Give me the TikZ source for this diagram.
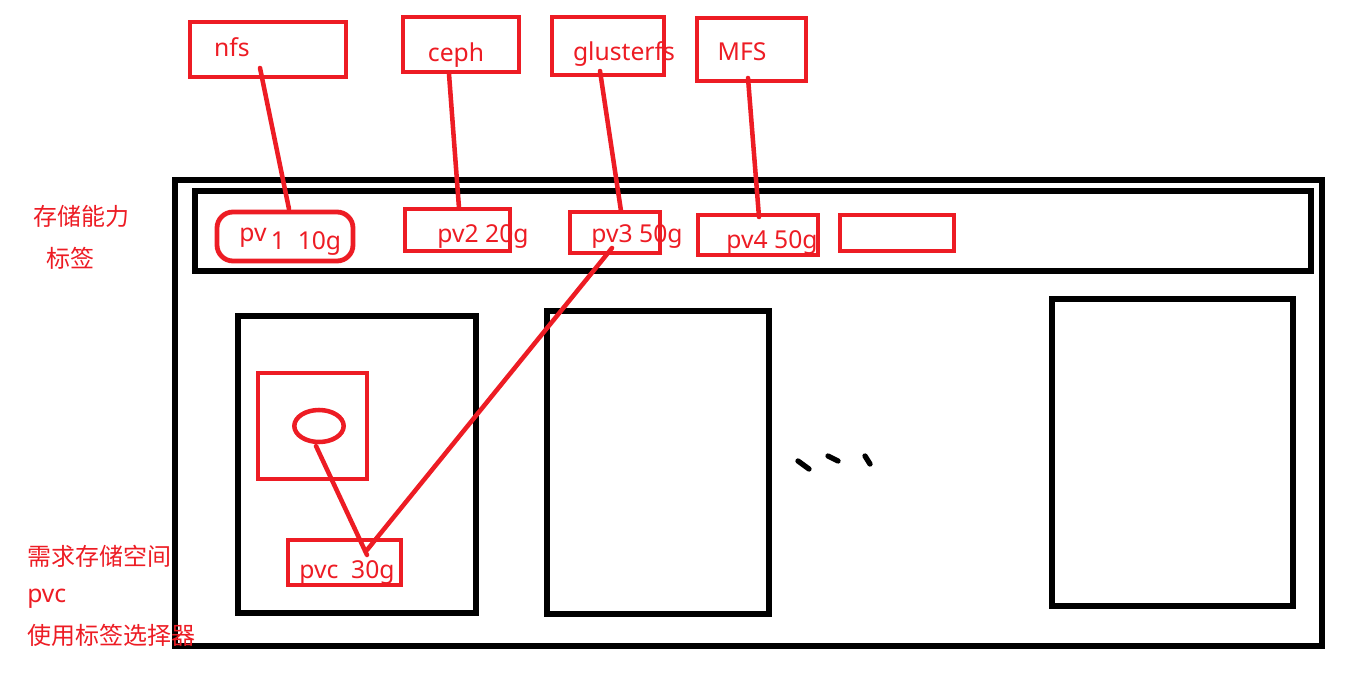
\documentclass[tikz,border=0pt]{standalone}
\usepackage{fontspec}
\usetikzlibrary{shapes.geometric}
\setmainfont{Noto Sans}
\newfontfamily\cjk{Noto Sans CJK SC}
\begin{document}
\begin{tikzpicture}[x=0.75pt,y=-0.75pt,
  blk/.style={draw=black,line width=4pt},
  rbox/.style={draw=pred,line width=3.6pt},
  rline/.style={draw=pred,line width=3.4pt,line cap=round},
  lbl/.style={text=pred,font=\fontsize{18.5}{22}\selectfont,inner sep=0pt},
  clbl/.style={text=pred,font=\cjk\fontsize{18}{22}\selectfont,inner sep=0pt,anchor=west}]
\definecolor{pred}{RGB}{237,28,36}
\useasboundingbox (0,0) rectangle (1348,673);
% black frames
\draw[blk] (175,180) rectangle (1322,646);
\draw[blk] (195,191) rectangle (1311,271);
\draw[blk] (238,316) rectangle (476,613);
\draw[blk] (547,311) rectangle (769,614);
\draw[blk] (1052,299) rectangle (1293,606);
% storage backends
\draw[rbox] (190,22) rectangle (346,77);
\draw[rbox] (403,17) rectangle (519,72);
\draw[rbox] (552,17) rectangle (664,75);
\draw[rbox] (697,18) rectangle (806,81);
\node[lbl] (tnfs) at (232,47) {nfs};
\node[lbl] (tceph) at (456,55) {ceph};
\node[lbl] (tgl) at (624,54) {glusterfs};
\node[lbl] (tmfs) at (742,52) {MFS};
% pv boxes
\draw[rbox,rounded corners=12] (217,212) rectangle (353,261);
\draw[rbox] (405,209) rectangle (510,251);
\draw[rbox] (570,212) rectangle (660,253);
\draw[rbox] (698,215) rectangle (818,255);
\draw[rbox] (840,215) rectangle (954,251);
\node[lbl] (tpv1a) at (253,238) {pv};
\node[lbl] (tpv1b) at (306,244) {1\ \ 10g};
\node[lbl] (tpv2) at (483,237) {pv2 20g};
\node[lbl] (tpv3) at (637,237) {pv3 50g};
\node[lbl] (tpv4) at (772,243) {pv4 50g};
% connectors
\coordinate (a1) at (260,68); \coordinate (b1) at (289,209);
\coordinate (a2) at (449,74); \coordinate (b2) at (459,208);
\coordinate (a3) at (600,71); \coordinate (b3) at (621,211);
\coordinate (a4) at (748,78); \coordinate (b4) at (759,217);
\draw[rline] (a1) -- (b1);
\draw[rline] (a2) -- (b2);
\draw[rline] (a3) -- (b3);
\draw[rline] (a4) -- (b4);
% pod contents
\draw[rbox] (258,373) rectangle (367,479);
\node[draw=pred,line width=3.4pt,ellipse,minimum width=37pt,minimum height=24pt,inner sep=0pt] (vol) at (319,426) {};
\draw[rbox] (288,540) rectangle (401,585);
\node[lbl] (tpvc) at (347,573) {pvc\ \ 30g};
\coordinate (c1) at (612,248); \coordinate (c2) at (367,550); \coordinate (c3) at (367,555); \coordinate (v1) at (316,446);
\draw[rline] (c1) -- (c2);
\draw[rline] (v1) -- (c3);
% dots
\draw[line width=4pt,line cap=round] (798,461) -- (809,469);
\draw[line width=4pt,line cap=round] (828,456) -- (838,461);
\draw[line width=4pt,line cap=round] (865,456) -- (870,464);
% side labels
\node[clbl] (s1) at (33,216) {存储能力};
\node[clbl] (s2) at (46,258) {标签};
\node[clbl] (s3) at (27,556) {需求存储空间};
\node[lbl,anchor=west] (s4) at (27,599) {pvc};
\node[clbl] (s5) at (27,635) {使用标签选择器};
\end{tikzpicture}
\end{document}
